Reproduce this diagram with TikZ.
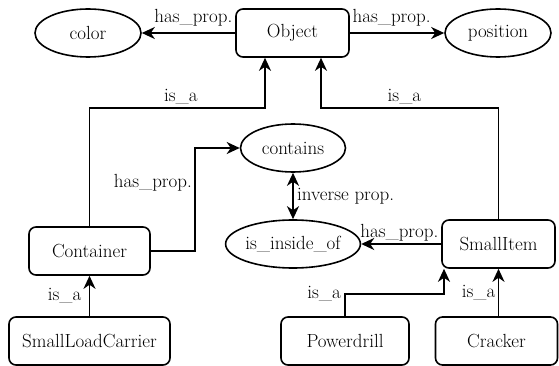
\documentclass[tikz,border=0pt]{standalone}
\usepackage{fontspec}
\usetikzlibrary{arrows.meta,shapes.geometric,positioning}

\begin{document}
\begin{tikzpicture}[x=1pt,y=-1pt,line width=1.6pt,
    font=\fontsize{19}{22}\selectfont,
    >={Stealth[length=13pt,width=12pt,inset=4pt]},
    classbox/.style={draw,rounded corners=7pt,minimum height=48pt,inner sep=0pt},
    propnode/.style={ellipse,draw,minimum height=48pt,inner sep=0pt},
    lbl/.style={inner sep=2pt}]
      \useasboundingbox (0,0) rectangle (559,366);
      \begin{scope}
        \node[classbox, minimum width=113pt] (object) at (292.5,33) {Object};
        \node[propnode, minimum width=106pt] (color) at (88,33) {color};
        \node[propnode, minimum width=106pt] (position) at (498,33) {position};
        \node[classbox, minimum width=121pt] (container) at (89.5,251) {Container};
        \node[propnode, minimum width=105pt] (contains) at (293,148) {contains};
        \node[propnode, minimum width=116pt] (inside) at (293,244) {is\_inside\_of};
        \node[classbox, minimum width=113pt] (smallitem) at (498.5,244) {SmallItem};
        \node[classbox, minimum width=161pt] (slc) at (89.5,341) {SmallLoadCarrier};
        \node[classbox, minimum width=128pt] (drill) at (345,341) {Powerdrill};
        \node[classbox, minimum width=122pt] (cracker) at (496.5,341) {Cracker};
      \end{scope}
      \begin{scope}[->]
        \draw (object) -- node[lbl,pos=0,anchor=south east,yshift=4pt] {has\_prop.} (color);
        \draw (object) -- node[lbl,pos=0,anchor=south west,yshift=4pt] {has\_prop.} (position);
        \draw (container.north) |- node[pos=0.76,above] {is\_a} ([xshift=-27.5pt,yshift=-50pt]object.south) -- ([xshift=-27.5pt]object.south);
        \draw (smallitem.north) |- node[pos=0.765,above] {is\_a} ([xshift=28.5pt,yshift=-50pt]object.south) -- ([xshift=28.5pt]object.south);
        \draw (container.east) -| node[pos=0.83,left,lbl] {has\_prop.} ([xshift=-45pt]contains.west) -- (contains.west);
        \draw[<->] (contains) -- node[right] {inverse prop.} (inside);
        \draw (smallitem) -- node[lbl,pos=0,anchor=south east] {has\_prop.} (inside);
        \draw (slc) -- node[left,xshift=-4pt] {is\_a} (container);
        \draw (drill.north) |- node[pos=0.5,left] {is\_a} ([xshift=-54.5pt,yshift=-25pt]smallitem.south) -- ([xshift=-54.5pt]smallitem.south);
        \draw (smallitem.south |- cracker.north) -- node[left,xshift=1pt] {is\_a} (smallitem.south);
      \end{scope}
    \end{tikzpicture}
\end{document}
